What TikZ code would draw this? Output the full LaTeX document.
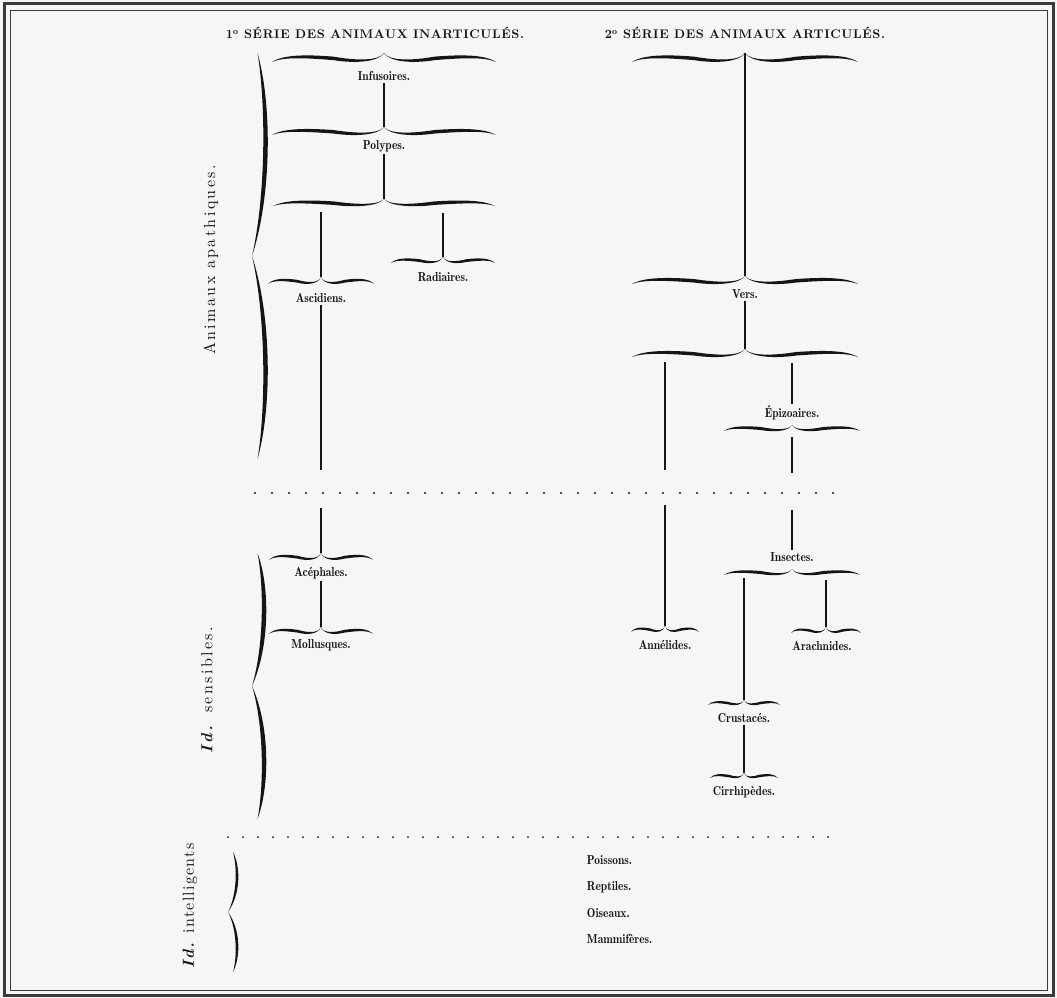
\documentclass[tikz,border=0pt]{standalone}
\usepackage{fontspec}
\usepackage{tikz}
\newfontfamily\espace{lmroman10}[Extension=.otf, UprightFont=*-regular, BoldFont=*-bold, ItalicFont=*-italic, BoldItalicFont=*-bolditalic, LetterSpace=15]
\newfontfamily\espacemoins{lmroman10}[Extension=.otf, UprightFont=*-regular, BoldFont=*-bold, ItalicFont=*-italic, BoldItalicFont=*-bolditalic, LetterSpace=8]
\newfontfamily\titre{lmroman10}[Extension=.otf, UprightFont=*-bold, LetterSpace=5]
\newfontfamily\grasse{lmromandemi10}[Extension=.otf, UprightFont=*-regular]
\definecolor{ink}{HTML}{151515}
\definecolor{papier}{HTML}{F6F6F6}
\definecolor{cadre}{HTML}{3A3A3A}

% half of a horizontal brace: cusp at (0,0), end at (-#1,#2)
\newcommand{\demi}[3]{(-#1,#2) .. controls ({-0.9*#1},{0.3*#2-0.3*#3}) and ({-0.7*#1},{0.35*#2-0.5*#3}) .. ({-0.45*#1},{0.6*#2-0.5*#3})
  .. controls ({-0.25*#1},{#2-0.4*#3}) and ({-0.05*#1},{0.95*#2-0.1*#3}) .. (0,0)
  .. controls ({-0.05*#1},{0.95*#2+0.1*#3}) and ({-0.25*#1},{#2+0.5*#3}) .. ({-0.45*#1},{0.6*#2+0.5*#3})
  .. controls ({-0.7*#1},{0.35*#2+0.5*#3}) and ({-0.9*#1},{0.3*#2+0.3*#3}) .. (-#1,#2) -- cycle}
\newcommand{\accolade}[4]{\fill[ink,shift={(#1)}] \demi{#2}{#3}{#4};
  \fill[ink,shift={(#1)},xscale=-1] \demi{#2}{#3}{#4};}
% half of a tall brace: cusp at (0,0), end at (#2,-#1)
\newcommand{\grandedemi}[4]{(#2,-#1) .. controls ({#3+#4},{-0.75*#1}) and ({#3+#4},{-0.3*#1}) .. (0,0)
  .. controls ({#3-#4},{-0.3*#1}) and ({#3-#4},{-0.75*#1}) .. (#2,-#1) -- cycle}
\newcommand{\grandeaccolade}[5]{\fill[ink,shift={(#1)}] \grandedemi{#2}{#3}{#4}{#5};
  \fill[ink,shift={(#1)},yscale=-1] \grandedemi{#2}{#3}{#4}{#5};}

\begin{document}
\begin{tikzpicture}[x=1pt,y=-1pt,
    etiq/.style={font=\grasse\fontsize{13}{15}\selectfont,text=ink,inner sep=2pt,xscale=0.88},
    cote/.style={font=\espace\fontsize{16}{18}\selectfont,text=ink,rotate=90},
    trait/.style={draw=ink,line width=1.2pt}]
\useasboundingbox (0,0) rectangle (1057,998);
\fill[papier] (0,0) rectangle (1057,998);
\draw[cadre,line width=3pt] (4,4) rectangle (1053,995);
\draw[cadre,line width=0.8pt] (10,10) rectangle (1047,990);

\node[text=ink,font=\titre\fontsize{12.5}{14}\selectfont] (serie1) at (375,33) {1\textsuperscript{o} SÉRIE DES ANIMAUX INARTICULÉS.};
\node[text=ink,font=\titre\fontsize{12.5}{14}\selectfont] (serie2) at (745,33) {2\textsuperscript{o} SÉRIE DES ANIMAUX ARTICULÉS.};

\node[cote] (apath) at (211,260) {Animaux apathiques.};
\node[cote] (sens) at (207,690) {\textbf{\textit{Id.}} sensibles.};
\node[cote,font=\espacemoins\fontsize{16}{18}\selectfont] (intel) at (190,906) {\textbf{\textit{Id.}} intelligents};
\coordinate (apath-b) at (252,256); \grandeaccolade{apath-b}{203}{5.5}{17}{3}
\coordinate (sens-b) at (252,686); \grandeaccolade{sens-b}{133}{5.5}{15}{3}
\coordinate (intel-b) at (228,912); \grandeaccolade{intel-b}{60}{5}{11}{1.8}

% inarticules
\coordinate (inf-b) at (384,53); \accolade{inf-b}{112}{9}{3.5}
\node[etiq] (inf) at (384,76) {Infusoires.};
\coordinate (pol-b) at (384,127); \accolade{pol-b}{112}{8}{3.5}
\node[etiq] (pol) at (384,146) {Polypes.};
\coordinate (emb) at (384,199); \accolade{emb}{111}{7}{3.5}
\coordinate (emb-g) at (321,212);
\coordinate (emb-d) at (443,213);
\coordinate (asc-b) at (321,277); \accolade{asc-b}{53}{7}{2.8}
\node[etiq] (asc) at (321,298) {Ascidiens.};
\coordinate (rad-b) at (443,257); \accolade{rad-b}{52}{6}{2.8}
\node[etiq] (rad) at (443,277) {Radiaires.};
\coordinate (asc-fin) at (321,470);
\coordinate (ace-debut) at (321,508);
\coordinate (ace-b) at (321,553); \accolade{ace-b}{52}{7}{2.8}
\node[etiq] (ace) at (321,573) {Acéphales.};
\coordinate (mol-b) at (321,627); \accolade{mol-b}{52}{7}{2.8}
\node[etiq] (mol) at (321,645) {Mollusques.};

% articules
\coordinate (art-b) at (745,53); \accolade{art-b}{113}{9}{3.5}
\coordinate (ver-b) at (745,276); \accolade{ver-b}{113}{8}{3.5}
\node[etiq] (ver) at (745,294) {Vers.};
\coordinate (ver-emb) at (745,349); \accolade{ver-emb}{113}{8}{3.5}
\coordinate (ver-g) at (665,362);
\coordinate (ver-d) at (792,363);
\node[etiq] (epi) at (792,413) {Épizoaires.};
\coordinate (epi-b) at (792,425); \accolade{epi-b}{68}{6}{3}
\coordinate (epi-debut) at (792,437);
\coordinate (epi-fin) at (792,473);
\coordinate (ins-debut) at (792,510);
\node[etiq] (ins) at (792,557) {Insectes.};
\coordinate (ins-b) at (792,569); \accolade{ins-b}{68}{6}{3}
\coordinate (ins-g) at (744,578);
\coordinate (ins-d) at (826,580);
\coordinate (ann-fin) at (665,470);
\coordinate (ann-debut) at (665,505);
\coordinate (ann-b) at (665,626); \accolade{ann-b}{34}{6}{2.5}
\node[etiq] (ann) at (665,645) {Annélides.};
\coordinate (ara-b) at (826,627); \accolade{ara-b}{35}{6}{2.5}
\node[etiq] (ara) at (822,646) {Arachnides.};
\coordinate (cru-b) at (744,700); \accolade{cru-b}{36}{5}{2.5}
\node[etiq] (cru) at (744,718) {Crustacés.};
\coordinate (cir-b) at (744,773); \accolade{cir-b}{34}{5}{2.5}
\node[etiq] (cir) at (744,792) {Cirrhipèdes.};

\node[etiq,anchor=west] (poi) at (585,860) {Poissons.};
\node[etiq,anchor=west] (rep) at (585,887) {Reptiles.};
\node[etiq,anchor=west] (ois) at (585,913) {Oiseaux.};
\node[etiq,anchor=west] (mam) at (585,939) {Mammifères.};

\draw[trait] (pol-b |- inf.south) -- (pol-b);
\draw[trait] (emb |- pol.south) -- (emb);
\draw[trait] (emb-g) -- (asc-b);
\draw[trait] (emb-d) -- (rad-b);
\draw[trait] (asc-fin |- asc.south) -- (asc-fin);
\draw[trait] (ace-debut) -- (ace-b);
\draw[trait] (mol-b |- ace.south) -- (mol-b);
\draw[trait] (art-b) -- (ver-b);
\draw[trait] (ver-emb |- ver.south) -- (ver-emb);
\draw[trait] (ver-g) -- (ann-fin);
\draw[trait] (ann-debut) -- (ann-b);
\draw[trait] (ver-d) -- (ver-d |- epi.north);
\draw[trait] (epi-debut) -- (epi-fin);
\draw[trait] (ins-debut) -- (ins-debut |- ins.north);
\draw[trait] (ins-g) -- (cru-b);
\draw[trait] (ins-d) -- (ara-b);
\draw[trait] (cir-b |- cru.south) -- (cir-b);

\foreach \i in {0,...,34} \fill[ink] ({255+17*\i},493) circle (1.1);
\foreach \i in {0,...,40} \fill[ink] ({228+15*\i},837) circle (1);
\end{tikzpicture}
\end{document}
